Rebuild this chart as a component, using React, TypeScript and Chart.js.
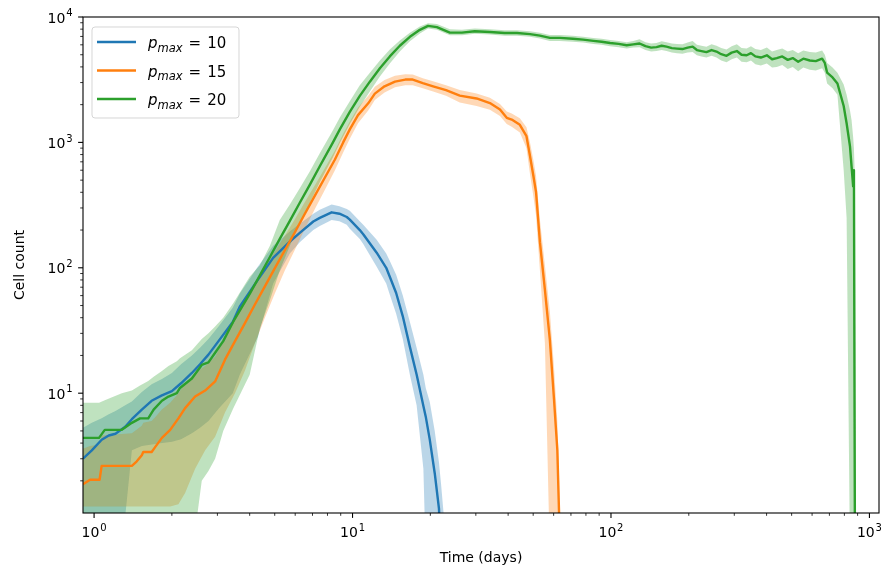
import React, { useEffect, useRef } from 'react';
import { Chart, registerables } from 'chart.js';

Chart.register(...registerables);

// ---------------- data ----------------
const blueTime = [0.906, 0.98, 1.07, 1.14, 1.21, 1.32, 1.40, 1.53, 1.67, 1.83, 2.0, 2.17, 2.39, 2.57, 2.77, 3.03, 3.44, 3.66, 4.3, 4.93, 5.72, 6.25, 7.05, 7.47, 8.3, 8.9, 9.5, 9.76, 10.67, 11.0, 12.4, 13.5, 13.9, 14.75, 15.65, 16.67, 17.7, 18.8, 19.2, 19.9, 20.8, 21.6, 22.0, 22.6];
const blueMean = [3.0, 3.5, 4.25, 4.6, 4.75, 5.4, 6.2, 7.4, 8.7, 9.6, 10.4, 12, 14.5, 17, 20.3, 26, 37, 49, 80, 120, 162, 190, 234, 250, 277, 270, 254, 242, 200, 185, 132, 100, 86, 63, 41, 23.4, 14.1, 7.9, 6.5, 4.26, 2.3, 1.2, 0.5, 0.5];
const blueLow = [0.8, 0.9, 0.95, 1.0, 1.0, 1.05, 3.5, 3.8, 3.9, 4.0, 4.1, 4.3, 4.8, 5.3, 6.0, 7.5, 10, 14, 28, 75, 130, 160, 200, 215, 240, 235, 220, 205, 170, 155, 102, 75, 62, 43, 27, 14, 8, 2.5, 0.5, 0.5, 0.5, 0.5, 0.5, 0.5];
const blueHigh = [5.3, 5.8, 6.3, 6.8, 7.2, 8.0, 8.6, 10.2, 11.8, 13, 14.5, 17, 20, 23, 27, 34, 48, 62, 102, 150, 195, 225, 270, 290, 320, 310, 295, 285, 235, 220, 167, 130, 115, 88, 60, 37, 23, 14, 11, 8.5, 5.0, 2.8, 1.9, 1.0];

const orangeTime = [0.906, 0.965, 1.05, 1.07, 1.40, 1.46, 1.53, 1.55, 1.67, 1.72, 1.83, 1.97, 2.12, 2.25, 2.46, 2.69, 2.94, 3.21, 3.51, 3.83, 4.19, 4.58, 5.0, 5.47, 5.99, 6.54, 7.15, 7.82, 8.55, 9.2, 9.76, 10.5, 11.5, 12.2, 13.3, 14.6, 16.0, 17.1, 18.7, 20.5, 23.0, 26.0, 30.2, 34.0, 37.2, 39.5, 41.3, 44.4, 47.1, 48.6, 50.1, 51.3, 53.1, 55.5, 58.0, 60.2, 62.0, 62.9, 63.6];
const orangeMean = [1.88, 2.04, 2.04, 2.63, 2.63, 2.85, 3.2, 3.4, 3.4, 3.7, 4.4, 5.1, 6.3, 7.6, 9.4, 10.5, 12.4, 18.5, 26, 36, 51, 71, 99, 138, 193, 270, 376, 525, 730, 1000, 1270, 1650, 2050, 2450, 2800, 3050, 3170, 3170, 2970, 2800, 2610, 2360, 2240, 2060, 1830, 1570, 1520, 1380, 1120, 780, 540, 400, 160, 67, 26.7, 8.9, 3.54, 1.2, 0.5];
const orangeLow = [1.25, 1.25, 1.25, 1.25, 1.25, 1.25, 1.25, 1.25, 1.25, 1.25, 1.25, 1.25, 1.3, 1.6, 2.5, 3.5, 4.5, 7, 10, 15, 25, 40, 62, 95, 140, 205, 295, 420, 600, 830, 1070, 1420, 1800, 2180, 2500, 2750, 2850, 2850, 2700, 2550, 2350, 2080, 1950, 1820, 1620, 1400, 1330, 1200, 900, 560, 370, 260, 95, 25, 0.5, 0.5, 0.5, 0.5, 0.5];
const orangeHigh = [3.6, 3.8, 3.9, 4.6, 4.8, 5.1, 5.5, 5.8, 6.0, 6.4, 7.4, 8.4, 10, 12, 14.5, 16.5, 19.5, 28, 40, 54, 74, 100, 135, 180, 245, 335, 455, 625, 860, 1170, 1470, 1900, 2350, 2780, 3150, 3400, 3500, 3480, 3250, 3070, 2850, 2620, 2450, 2270, 2020, 1760, 1700, 1560, 1320, 1000, 720, 540, 240, 105, 45, 16, 6, 2.5, 0.5];

const greenTime = [0.906, 1.045, 1.10, 1.28, 1.40, 1.506, 1.62, 1.70, 1.83, 1.94, 2.09, 2.15, 2.39, 2.61, 2.77, 2.94, 3.16, 3.45, 4.0,
  4.38, 4.79, 5.23, 5.72, 6.25, 6.84, 7.47, 8.4, 8.93, 9.76, 10.67, 11.67, 12.76, 13.94, 15.24, 16.67, 18.22, 19.6,
  21.2, 23.8, 26.5, 29.7, 34.0, 38.8, 43.3, 48.6, 53.1, 58.0, 63.4, 71.1, 78, 85.5, 92, 99.2, 107, 115, 122, 129, 136, 143, 150, 157, 164, 172, 180, 189, 198, 207, 215, 224, 234, 245, 256, 267, 280, 293, 307, 320, 335, 348, 362, 380, 401, 420, 438, 460, 483, 505, 530, 555, 588, 620, 656, 672, 686, 720, 752, 795, 816, 841, 853, 865, 871, 879, 884];
const greenMean = [4.4, 4.4, 5.1, 5.1, 5.8, 6.3, 6.3, 7.4, 8.7, 9.4, 10, 11, 13.1, 16.8, 17.6, 21, 26, 37, 62,
  87, 122, 170, 237, 330, 460, 645, 1000, 1270, 1750, 2350, 3050, 3900, 4850, 5900, 6950, 7900, 8500,
  8300, 7500, 7500, 7700, 7600, 7450, 7450, 7300, 7100, 6810, 6810, 6710, 6600, 6450, 6350, 6200, 6100, 5950, 6050, 6150, 5850, 5700, 5750, 5900, 5800, 5650, 5600, 5550, 5700, 5800, 5450, 5350, 5250, 5450, 5300, 5050, 4900, 5200, 5350, 5000, 4950, 5150, 4850, 4750, 4950, 4600, 4700, 4850, 4550, 4700, 4400, 4650, 4500, 4450, 4650, 4300, 3600, 3300, 2950, 1950, 1420, 930, 640, 445, 600, 0.5, 0.5];
const greenLow = [0.5, 0.5, 0.5, 0.5, 0.5, 0.5, 0.5, 0.5, 0.5, 0.5, 0.5, 0.5, 0.5, 2.0, 2.4, 3.0, 5.0, 7.5, 14,
  33, 55, 95, 150, 225, 330, 480, 760, 990, 1400, 1920, 2550, 3350, 4250, 5300, 6400, 7400, 8100,
  7900, 7150, 7150, 7350, 7250, 7100, 7100, 6950, 6750, 6450, 6450, 6350, 6250, 6100, 6000, 5850, 5750, 5600, 5700, 5750, 5450, 5300, 5350, 5450, 5350, 5200, 5150, 5100, 5200, 5250, 4950, 4850, 4750, 4900, 4750, 4500, 4350, 4600, 4750, 4400, 4350, 4500, 4200, 4100, 4250, 3950, 4000, 4150, 3850, 4000, 3700, 3950, 3800, 3750, 3900, 3600, 2950, 2700, 2400, 600, 250, 0.5, 0.5, 0.5, 0.5, 0.5, 0.5];
const greenHigh = [8.4, 8.4, 8.8, 10, 10.5, 11.5, 12.5, 13.5, 15, 16.5, 18, 19, 22, 27, 30, 34, 40, 52, 85,
  105, 150, 240, 320, 430, 590, 820, 1250, 1580, 2130, 2850, 3600, 4500, 5500, 6500, 7500, 8400, 8900,
  8800, 8000, 7900, 8100, 8000, 7850, 7850, 7700, 7500, 7200, 7200, 7100, 6950, 6800, 6700, 6550, 6450, 6300, 6450, 6650, 6300, 6150, 6200, 6400, 6300, 6150, 6100, 6050, 6250, 6450, 6000, 5900, 5800, 6050, 5900, 5650, 5500, 5850, 6050, 5650, 5600, 5850, 5550, 5450, 5700, 5300, 5450, 5600, 5300, 5450, 5150, 5400, 5250, 5200, 5400, 5000, 4300, 3950, 3600, 2900, 2400, 1800, 1500, 1100, 900, 500, 0.5];

const pmaxValues = ['10', '15', '20'];
const xTickValues = [1, 10, 100, 1000];
const yTickValues = [10, 100, 1000, 10000];
const xLimits = [0.906, 1089];
const yLimits = [1.108, 10000];
const xTitle = 'Time (days)';
const yTitle = 'Cell count';

// ---------------- styling ----------------
const FONT = 'DejaVu Sans';
const COLORS = ['#1f77b4', '#ff7f0e', '#2ca02c'];
const FILLS = ['rgba(31,119,180,0.3)', 'rgba(255,127,14,0.3)', 'rgba(44,160,44,0.3)'];

function pts(t: number[], y: number[]) {
  return t.map((x, i) => ({ x, y: y[i] }));
}

function drawPow10(ctx: CanvasRenderingContext2D, v: number, x: number, baseline: number, align: 'center' | 'right') {
  const e = String(Math.round(Math.log10(v)));
  ctx.font = `14px "${FONT}"`;
  const w1 = ctx.measureText('10').width;
  ctx.font = `10px "${FONT}"`;
  const w2 = ctx.measureText(e).width;
  const total = w1 + 0.8 + w2;
  const x0 = align === 'center' ? x - total / 2 : x - total;
  ctx.font = `14px "${FONT}"`;
  ctx.fillText('10', x0, baseline);
  ctx.font = `10px "${FONT}"`;
  ctx.fillText(e, x0 + w1 + 0.8, baseline - 6.2);
}

const mplPlugin = {
  id: 'mplAxesLegend',
  afterDraw(chart: any) {
    const { ctx, chartArea: a, scales } = chart;
    const xs = scales.x;
    const ys = scales.y;
    ctx.save();
    ctx.strokeStyle = '#000';
    // ticks
    for (let d = -1; d <= 4; d++) {
      for (let m = 1; m <= 9; m++) {
        const v = m * Math.pow(10, d);
        const major = m === 1;
        const len = major ? 4.9 : 2.8;
        ctx.lineWidth = major ? 1.1 : 0.8;
        if (v >= xLimits[0] && v <= xLimits[1]) {
          const px = xs.getPixelForValue(v);
          ctx.beginPath();
          ctx.moveTo(px, a.bottom);
          ctx.lineTo(px, a.bottom + len);
          ctx.stroke();
        }
        if (v >= yLimits[0] && v <= yLimits[1]) {
          const py = ys.getPixelForValue(v);
          ctx.beginPath();
          ctx.moveTo(a.left, py);
          ctx.lineTo(a.left - len, py);
          ctx.stroke();
        }
      }
    }
    // tick labels
    ctx.fillStyle = '#000';
    ctx.textBaseline = 'alphabetic';
    ctx.textAlign = 'left';
    for (const v of xTickValues) {
      drawPow10(ctx, v, xs.getPixelForValue(v), a.bottom + 24, 'center');
    }
    for (const v of yTickValues) {
      drawPow10(ctx, v, a.left - 10.5, ys.getPixelForValue(v) + 5.5, 'right');
    }
    // spines
    ctx.lineWidth = 1.1;
    ctx.strokeRect(a.left, a.top, a.right - a.left, a.bottom - a.top);

    // legend
    const lx = a.left + 9;
    const ly = a.top + 10;
    const lw = 147;
    const lh = 91;
    const r = 3;
    ctx.beginPath();
    ctx.moveTo(lx + r, ly);
    ctx.lineTo(lx + lw - r, ly);
    ctx.arcTo(lx + lw, ly, lx + lw, ly + r, r);
    ctx.lineTo(lx + lw, ly + lh - r);
    ctx.arcTo(lx + lw, ly + lh, lx + lw - r, ly + lh, r);
    ctx.lineTo(lx + r, ly + lh);
    ctx.arcTo(lx, ly + lh, lx, ly + lh - r, r);
    ctx.lineTo(lx, ly + r);
    ctx.arcTo(lx, ly, lx + r, ly, r);
    ctx.closePath();
    ctx.fillStyle = 'rgba(255,255,255,0.8)';
    ctx.fill();
    ctx.strokeStyle = 'rgba(204,204,204,0.8)';
    ctx.lineWidth = 1;
    ctx.stroke();

    for (let i = 0; i < pmaxValues.length; i++) {
      const rowY = ly + 15 + i * 28.5;
      ctx.strokeStyle = COLORS[i];
      ctx.lineWidth = 2.4;
      ctx.beginPath();
      ctx.moveTo(lx + 5, rowY);
      ctx.lineTo(lx + 44, rowY);
      ctx.stroke();

      let x = lx + 56;
      ctx.fillStyle = '#000';
      ctx.font = `italic 15px "${FONT}"`;
      ctx.fillText('p', x, rowY + 6);
      x += ctx.measureText('p').width;
      ctx.font = `italic 11.5px "${FONT}"`;
      ctx.fillText('max', x, rowY + 9.5);
      x += ctx.measureText('max').width + 6;
      ctx.font = `15px "${FONT}"`;
      ctx.fillText('=', x, rowY + 6);
      x += ctx.measureText('=').width + 6;
      ctx.fillText(pmaxValues[i], x, rowY + 6);
    }
    ctx.restore();
  },
};

export default function App() {
  const ref = useRef<HTMLCanvasElement>(null);

  useEffect(() => {
    const canvas = ref.current;
    if (!canvas) return;

    const series = [
      { t: greenTime, m: greenMean, lo: greenLow, hi: greenHigh, c: 2 },
      { t: orangeTime, m: orangeMean, lo: orangeLow, hi: orangeHigh, c: 1 },
      { t: blueTime, m: blueMean, lo: blueLow, hi: blueHigh, c: 0 },
    ];

    const datasets: any[] = [];
    for (const s of series) {
      datasets.push({
        data: pts(s.t, s.lo),
        borderWidth: 0,
        borderColor: 'rgba(0,0,0,0)',
        pointRadius: 0,
        fill: false,
        tension: 0,
      });
      datasets.push({
        data: pts(s.t, s.hi),
        borderWidth: 0,
        borderColor: 'rgba(0,0,0,0)',
        backgroundColor: FILLS[s.c],
        pointRadius: 0,
        fill: '-1',
        tension: 0,
      });
    }
    for (const s of series) {
      datasets.push({
        data: pts(s.t, s.m),
        borderColor: COLORS[s.c],
        borderWidth: 2.4,
        pointRadius: 0,
        fill: false,
        tension: 0,
        borderJoinStyle: 'round',
      });
    }

    const chart = new Chart(canvas, {
      type: 'line',
      data: { datasets },
      options: {
        animation: false,
        responsive: false,
        events: [],
        layout: { padding: { left: 0, right: 8, top: 17, bottom: 0 } },
        plugins: {
          legend: { display: false },
          tooltip: { enabled: false },
          filler: { drawTime: 'beforeDatasetsDraw' },
        },
        scales: {
          x: {
            type: 'logarithmic',
            min: xLimits[0],
            max: xLimits[1],
            grid: { display: false, drawTicks: false },
            border: { display: false },
            afterBuildTicks: (scale: any) => {
              scale.ticks = xTickValues.map((v) => ({ value: v }));
            },
            afterFit: (scale: any) => {
              scale.height = 63;
              scale.paddingLeft = 0;
              scale.paddingRight = 0;
            },
            ticks: { display: false },
            title: {
              display: true,
              text: xTitle,
              color: '#000',
              font: { family: FONT, size: 14 },
              padding: { top: 0, bottom: 9 },
            },
          },
          y: {
            type: 'logarithmic',
            min: yLimits[0],
            max: yLimits[1],
            grid: { display: false, drawTicks: false },
            border: { display: false },
            afterBuildTicks: (scale: any) => {
              scale.ticks = yTickValues.map((v) => ({ value: v }));
            },
            afterFit: (scale: any) => {
              scale.width = 83;
              scale.paddingTop = 0;
              scale.paddingBottom = 0;
            },
            ticks: { display: false },
            title: {
              display: true,
              text: yTitle,
              color: '#000',
              font: { family: FONT, size: 14 },
              padding: { top: 12, bottom: 0 },
            },
          },
        },
      } as any,
      plugins: [mplPlugin],
    });

    return () => {
      chart.destroy();
    };
  }, []);

  return (
    <div style={{ position: 'absolute', left: 0, top: 0, width: 887, height: 576, background: '#fff' }}>
      <canvas ref={ref} width={887} height={576} style={{ display: 'block', width: 887, height: 576 }} />
    </div>
  );
}
